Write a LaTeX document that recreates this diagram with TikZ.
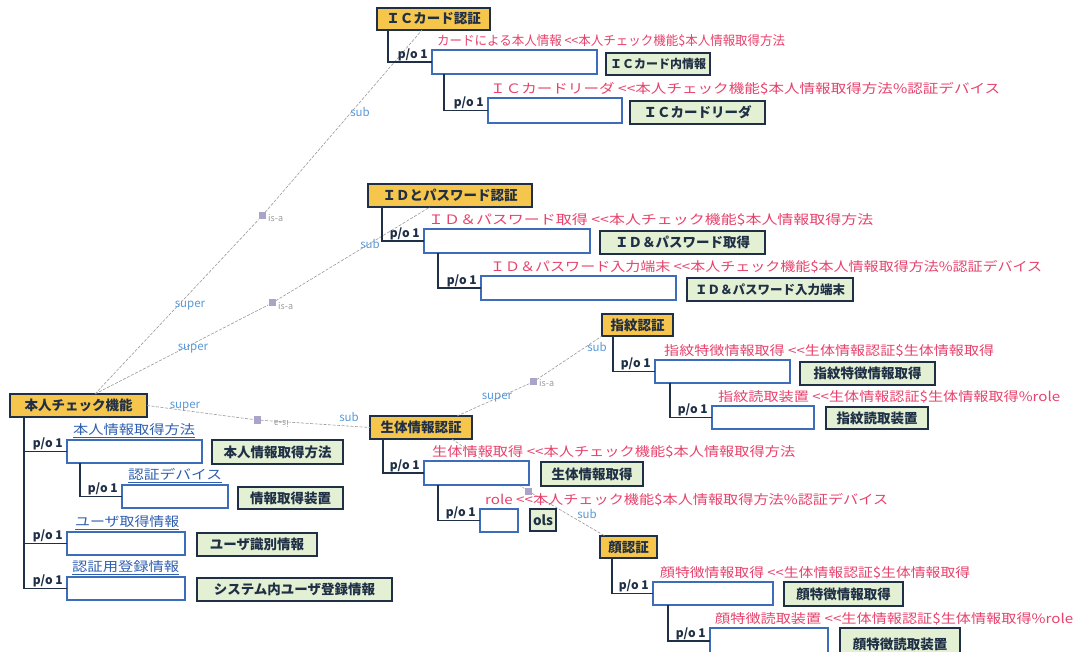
\documentclass[tikz,border=0pt]{standalone}
\usepackage{graphicx}
\usepackage{fontspec}
\setmainfont{Noto Sans CJK JP}
\definecolor{concept}{HTML}{F6C54B}
\definecolor{clsfill}{HTML}{E3F0D3}
\definecolor{dark}{HTML}{1F2F45}
\definecolor{slotb}{HTML}{3B6DBA}
\definecolor{redl}{HTML}{E8426C}
\definecolor{bluel}{HTML}{2F5FB0}
\definecolor{rolec}{HTML}{5A9AD8}
\definecolor{isac}{HTML}{A9A5C9}
\definecolor{linkc}{HTML}{9A9A9A}
\newcommand\mkbox[7]{\node[#1, anchor=north west, minimum width={(#5-#3)*1pt}, minimum height={(#6-#4)*1pt}] (#2) at (#3,#4) {#7};}
\newcommand\fitw[2]{\resizebox{#1pt}{\height}{#2}}
\newcommand\lt{<\kern0pt<}
\tikzset{
  concept/.style={draw=dark, fill=concept, line width=1.6pt, inner sep=0pt, outer sep=0pt, text=dark, font=\bfseries\fontsize{13.5}{15}\selectfont},
  clsbox/.style={draw=dark, fill=clsfill, line width=1.7pt, inner sep=0pt, outer sep=0pt, text=dark, font=\bfseries\fontsize{13.5}{15}\selectfont},
  slotbox/.style={draw=slotb, fill=white, line width=1.1pt, inner sep=0pt, outer sep=0pt},
  tree/.style={draw=dark, line width=1.8pt},
  po/.style={text=dark, font=\bfseries\fontsize{12}{13}\selectfont, inner sep=1pt, anchor=south east},
  redlbl/.style={text=redl, font=\fontsize{13}{14}\selectfont, inner sep=0pt, anchor=south west},
  bluelbl/.style={text=bluel, font=\fontsize{13}{14}\selectfont, inner sep=0pt, anchor=south west},
  link/.style={draw=linkc, line width=0.6pt, dash pattern=on 3pt off 1.5pt},
  isasq/.style={fill=isac, draw=none, minimum size=7pt, inner sep=0pt},
  isatxt/.style={text=linkc, font=\fontsize{9}{10}\selectfont, inner sep=0pt},
  rolelbl/.style={text=rolec, font=\fontsize{11.5}{12}\selectfont, inner sep=0pt}
}
\begin{document}
\begin{tikzpicture}[x=1pt,y=-1pt]
\useasboundingbox[fill=white] (0,0) rectangle (1077,652);

% ---------- is-a nodes ----------
\node[isasq] (isa1) at (262,216) {};
\node[isasq] (isa2) at (272,303) {};
\node[isasq] (isa3) at (257,420) {};
\node[isasq] (isa4) at (533,382) {};
\node[isasq] (isa5) at (528,491) {};

% ---------- concept boxes ----------
\mkbox{concept}{ic}{377}{8}{490}{30}{ＩＣカード認証}
\mkbox{concept}{idp}{368}{184}{532}{207}{ＩＤとパスワード認証}
\mkbox{concept}{hon}{10}{394}{147}{417}{本人チェック機能}
\mkbox{concept}{sei}{370}{416}{472}{439}{生体情報認証}
\mkbox{concept}{shi}{602}{314}{673}{336}{指紋認証}
\mkbox{concept}{kao}{600}{536}{657}{558}{顔認証}

% ---------- is-a links ----------
\draw[link] ([xshift=85pt]hon.north west) -- (isa1) -- ([xshift=45pt]ic.south west);
\draw[link] ([xshift=85pt]hon.north west) -- (isa2) -- ([xshift=62pt]idp.south west);
\draw[link] (hon.east) -- (isa3) -- (sei.west);
\draw[link] ([xshift=-15pt]sei.north east) -- (isa4) -- (shi.south west);
\draw[link] ([xshift=-20pt]sei.south east) -- (isa5) -- ([xshift=5pt]kao.north west);
\node[isasq] at (isa1) {};
\node[isasq] at (isa2) {};
\node[isasq] at (isa3) {};
\node[isasq] at (isa4) {};
\node[isasq] at (isa5) {};
\node[isatxt, anchor=west] (t1) at ([xshift=6pt,yshift=-2pt]isa1.center) {is-a};
\node[isatxt, anchor=west] (t2) at ([xshift=6pt,yshift=-3pt]isa2.center) {is-a};
\node[isatxt, anchor=west, rotate=180] (t3) at ([xshift=32pt,yshift=-4pt]isa3.center) {is-a};
\node[isatxt, anchor=west] (t4) at ([xshift=6pt,yshift=-1pt]isa4.center) {is-a};
\node[rolelbl] (s1) at (360,112) {sub};
\node[rolelbl] (p1) at (190,306) {super};
\node[rolelbl] (s2) at (370,244) {sub};
\node[rolelbl] (p2) at (193,349) {super};
\node[rolelbl] (p3) at (185,407) {super};
\node[rolelbl] (s3) at (349,417) {sub};
\node[rolelbl] (p4) at (497,398) {super};
\node[rolelbl] (s4) at (597,347) {sub};
\node[rolelbl] (s5) at (587,514) {sub};

% ---------- IC card ----------
\mkbox{slotbox}{ic1}{432}{50}{597}{74}{}
\mkbox{clsbox, font=\bfseries\fontsize{12}{14}\selectfont}{icc1}{606}{53}{710}{75}{ＩＣカード内情報}
\mkbox{slotbox}{ic2}{488}{98}{622}{123}{}
\mkbox{clsbox}{icc2}{630}{101}{765}{124}{ＩＣカードリーダ}
\draw[tree] ([xshift=11pt]ic.south west) |- (ic1.west);
\draw[tree] ([xshift=12pt]ic1.south west) |- (ic2.west);
\node[po] (icp1) at ([xshift=-3pt]ic1.west) {p/o 1};
\node[po] (icp2) at ([xshift=-3pt]ic2.west) {p/o 1};
\node[redlbl] (icr1) at ([xshift=5pt,yshift=3pt]ic1.north west) {\fitw{348}{カードによる本人情報 \lt 本人チェック機能\$本人情報取得方法}};
\node[redlbl] (icr2) at ([xshift=2pt,yshift=3pt]ic2.north west) {\fitw{510}{ＩＣカードリーダ \lt 本人チェック機能\$本人情報取得方法\%認証デバイス}};

% ---------- ID & password ----------
\mkbox{slotbox}{id1}{424}{229}{590}{253}{}
\mkbox{clsbox}{idc1}{600}{231}{765}{254}{ＩＤ＆パスワード取得}
\mkbox{slotbox}{id2}{481}{276}{676}{300}{}
\mkbox{clsbox, font=\bfseries\fontsize{12.5}{14}\selectfont}{idc2}{687}{278}{853}{301}{ＩＤ＆パスワード入力端末}
\draw[tree] ([xshift=14pt]idp.south west) |- (id1.west);
\draw[tree] ([xshift=14pt]id1.south west) |- (id2.west);
\node[po] (idp1) at ([xshift=-3pt]id1.west) {p/o 1};
\node[po] (idp2) at ([xshift=-3pt]id2.west) {p/o 1};
\node[redlbl] (idr1) at ([xshift=4pt,yshift=3pt]id1.north west) {\fitw{445}{ＩＤ＆パスワード取得 \lt 本人チェック機能\$本人情報取得方法}};
\node[redlbl] (idr2) at ([xshift=9pt,yshift=3pt]id2.north west) {\fitw{552}{ＩＤ＆パスワード入力端末 \lt 本人チェック機能\$本人情報取得方法\%認証デバイス}};

% ---------- fingerprint ----------
\mkbox{slotbox}{sh1}{655}{360}{790}{383}{}
\mkbox{clsbox}{shc1}{800}{362}{935}{385}{指紋特徴情報取得}
\mkbox{slotbox}{sh2}{712}{406}{814}{429}{}
\mkbox{clsbox}{shc2}{826}{407}{928}{429}{指紋読取装置}
\draw[tree] ([xshift=11pt]shi.south west) |- (sh1.west);
\draw[tree] ([xshift=15pt]sh1.south west) |- (sh2.west);
\node[po] (shp1) at ([xshift=-3pt]sh1.west) {p/o 1};
\node[po] (shp2) at ([xshift=-3pt]sh2.west) {p/o 1};
\node[redlbl] (shr1) at ([xshift=9pt,yshift=3pt]sh1.north west) {\fitw{330}{指紋特徴情報取得 \lt 生体情報認証\$生体情報取得}};
\node[redlbl] (shr2) at ([xshift=6pt,yshift=3pt]sh2.north west) {\fitw{342}{指紋読取装置 \lt 生体情報認証\$生体情報取得\%role}};

% ---------- identity check ----------
\mkbox{slotbox}{h1}{67}{440}{202}{463}{}
\mkbox{clsbox}{hc1}{212}{440}{343}{464}{本人情報取得方法}
\mkbox{slotbox}{h2}{122}{485}{228}{508}{}
\mkbox{clsbox}{hc2}{238}{487}{343}{509}{情報取得装置}
\mkbox{slotbox}{h3}{67}{532}{185}{555}{}
\mkbox{clsbox}{hc3}{197}{533}{317}{556}{ユーザ識別情報}
\mkbox{slotbox}{h4}{67}{577}{185}{600}{}
\mkbox{clsbox}{hc4}{197}{578}{392}{601}{システム内ユーザ登録情報}
\draw[tree] ([xshift=14pt]hon.south west) |- (h1.west);
\draw[tree] ([xshift=14pt]hon.south west) |- (h3.west);
\draw[tree] ([xshift=14pt]hon.south west) |- (h4.west);
\draw[tree] ([xshift=13pt]h1.south west) |- (h2.west);
\node[po] (hp1) at ([xshift=-3pt]h1.west) {p/o 1};
\node[po] (hp2) at ([xshift=-3pt]h2.west) {p/o 1};
\node[po] (hp3) at ([xshift=-3pt]h3.west) {p/o 1};
\node[po] (hp4) at ([xshift=-3pt]h4.west) {p/o 1};
\node[bluelbl] (hb1) at ([xshift=6pt,yshift=2pt]h1.north west) {\underline{\fitw{122}{本人情報取得方法}}};
\node[bluelbl] (hb2) at ([xshift=6pt,yshift=2pt]h2.north west) {\underline{\fitw{94}{認証デバイス}}};
\node[bluelbl] (hb3) at ([xshift=8pt,yshift=2pt]h3.north west) {\underline{\fitw{104}{ユーザ取得情報}}};
\node[bluelbl] (hb4) at ([xshift=5pt,yshift=2pt]h4.north west) {\underline{\fitw{107}{認証用登録情報}}};

% ---------- biometric ----------
\mkbox{slotbox}{se1}{424}{461}{529}{485}{}
\mkbox{clsbox}{sec1}{541}{462}{643}{486}{生体情報取得}
\mkbox{slotbox}{se2}{480}{509}{518}{532}{}
\mkbox{clsbox}{sec2}{530}{509}{556}{531}{ols}
\draw[tree] ([xshift=13pt]sei.south west) |- (se1.west);
\draw[tree] ([xshift=14pt]se1.south west) |- (se2.west);
\node[po] (sep1) at ([xshift=-3pt]se1.west) {p/o 1};
\node[po] (sep2) at ([xshift=-3pt]se2.west) {p/o 1};
\node[redlbl] (ser1) at ([xshift=8pt,yshift=3pt]se1.north west) {\fitw{363}{生体情報取得 \lt 本人チェック機能\$本人情報取得方法}};
\node[redlbl] (ser2) at ([xshift=5pt,yshift=3pt]se2.north west) {\fitw{403}{role \lt 本人チェック機能\$本人情報取得方法\%認証デバイス}};

% ---------- face ----------
\mkbox{slotbox}{k1}{653}{582}{773}{605}{}
\mkbox{clsbox}{kc1}{784}{582}{903}{606}{顔特徴情報取得}
\mkbox{slotbox}{k2}{710}{628}{828}{660}{}
\mkbox{clsbox}{kc2}{840}{628}{960}{660}{顔特徴読取装置}
\draw[tree] ([xshift=12pt]kao.south west) |- (k1.west);
\draw[tree] ([xshift=15pt]k1.south west) |- ([yshift=-1pt]k2.north west |- 0,640);
\node[po] (kp1) at ([xshift=-3pt]k1.west) {p/o 1};
\node[po, anchor=south east] (kp2) at (707,641) {p/o 1};
\node[redlbl] (kr1) at ([xshift=7pt,yshift=3pt]k1.north west) {\fitw{310}{顔特徴情報取得 \lt 生体情報認証\$生体情報取得}};
\node[redlbl] (kr2) at ([xshift=5pt,yshift=3pt]k2.north west) {\fitw{358}{顔特徴読取装置 \lt 生体情報認証\$生体情報取得\%role}};
\end{tikzpicture}
\end{document}
